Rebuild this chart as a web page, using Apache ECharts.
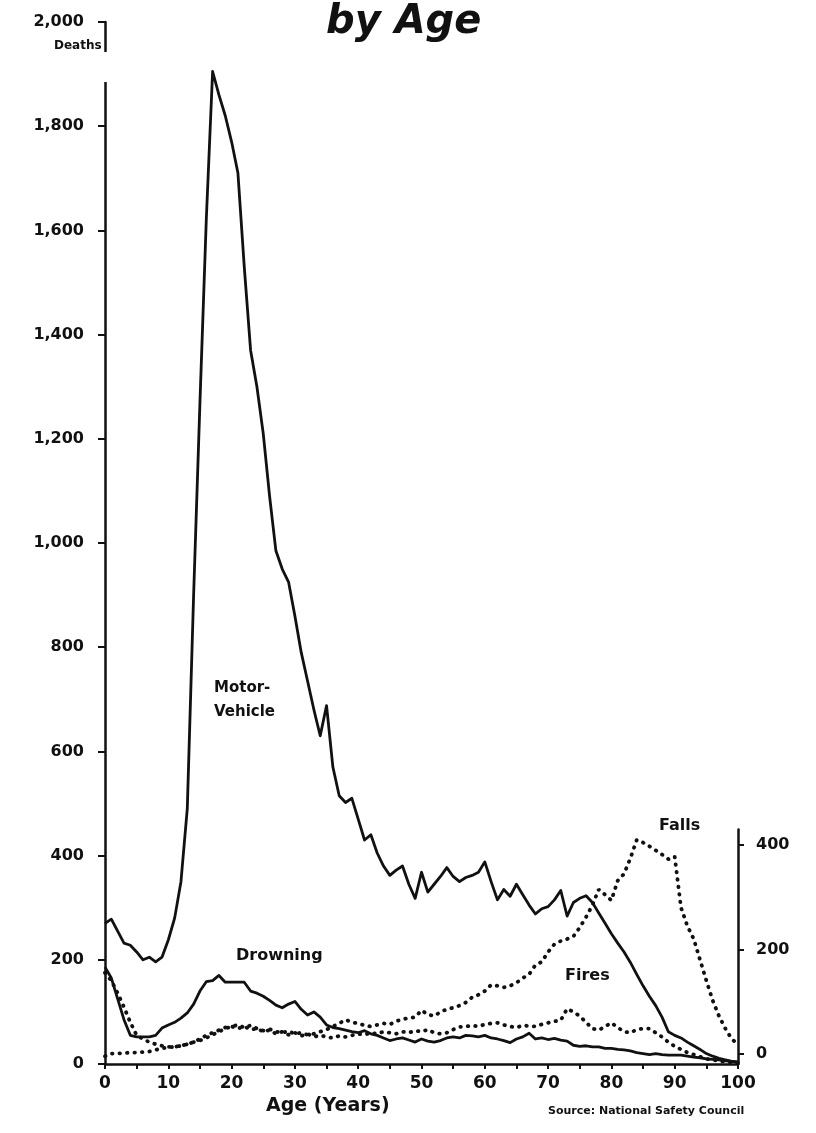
<!DOCTYPE html>
<html>
<head>
<meta charset="utf-8">
<title>Deaths by Age</title>
<script src="https://cdn.jsdelivr.net/npm/echarts@6.0.0/dist/echarts.min.js"></script>
<style>
  html, body { margin: 0; padding: 0; background: #fff; }
  #chart { width: 816px; height: 1133px; }
</style>
</head>
<body>
<div id="chart"></div>
<script>
// deaths per single year of age, ages 0..100 (index = age)
const motorVehicle = [
  270, 278, 255, 232, 228, 215, 200, 205, 196, 205,
  238, 280, 350, 490, 900, 1270, 1620, 1905, 1860, 1820,
  1770, 1710, 1530, 1370, 1300, 1210, 1090, 985, 950, 925,
  860, 790, 735, 680, 630, 688, 570, 515, 502, 510,
  470, 430, 440, 405, 380, 362, 372, 380, 345, 318,
  368, 330, 345, 360, 377, 360, 350, 358, 362, 368,
  388, 350, 315, 335, 322, 345, 325, 305, 288, 298,
  302, 315, 333, 284, 310, 318, 323, 310, 290, 270,
  250, 232, 215, 195, 172, 150, 130, 112, 90, 62,
  55, 50, 42, 35, 28, 20, 15, 11, 8, 5, 3
]
const drowning = [
  186, 165, 125, 85, 55, 52, 52, 52, 55, 69,
  75, 80, 88, 98, 115, 140, 158, 160, 170, 157,
  157, 157, 157, 140, 136, 130, 122, 113, 108, 115,
  120, 105, 94, 100, 90, 75, 70, 68, 65, 62,
  60, 64, 58, 55, 50, 45, 48, 50, 46, 42,
  48, 44, 42, 45, 50, 52, 50, 55, 54, 52,
  55, 50, 48, 45, 41, 48, 52, 59, 48, 50,
  47, 49, 46, 44, 36, 34, 35, 33, 33, 30,
  30, 28, 27, 25, 22, 20, 18, 20, 18, 17,
  17, 17, 15, 13, 12, 10, 9, 8, 6, 5, 4
]
const fires = [
  175, 160, 136, 109, 80, 55, 48, 42, 38, 35,
  33, 33, 35, 38, 42, 48, 55, 60, 65, 70,
  72, 68, 72, 66, 68, 62, 65, 58, 62, 56,
  60, 54, 58, 52, 55, 52, 50, 54, 52, 55,
  58, 56, 60, 58, 62, 60, 58, 62, 60, 64,
  62, 66, 60, 58, 60, 66, 71, 72, 74, 72,
  76, 78, 79, 75, 72, 70, 74, 73, 72, 76,
  79, 82, 84, 106, 100, 92, 80, 68, 65, 72,
  79, 70, 62, 60, 66, 68, 68, 60, 52, 42,
  34, 28, 22, 18, 14, 10, 8, 6, 4, 3, 2
]
const falls = [
  15, 20, 20, 21, 22, 22, 23, 24, 27, 30,
  32, 33, 35, 38, 42, 45, 50, 56, 62, 68,
  72, 75, 70, 74, 68, 64, 67, 62, 60, 63,
  58, 60, 56, 58, 62, 66, 72, 78, 85, 80,
  78, 74, 72, 75, 78, 76, 82, 86, 88, 90,
  103, 95, 92, 100, 105, 108, 112, 118, 128, 133,
  140, 152, 150, 147, 150, 156, 165, 172, 190, 196,
  215, 230, 236, 240, 245, 262, 282, 305, 335, 325,
  314, 352, 365, 395, 430, 425, 418, 410, 402, 393,
  398, 300, 265, 240, 200, 160, 122, 92, 68, 48, 38
]
const leftTicks = [0, 200, 400, 600, 800, 1000, 1200, 1400, 1600, 1800, 2000]
const rightTicks = [0, 200, 400]
const ageLabels = [0, 10, 20, 30, 40, 50, 60, 70, 80, 90, 100]

const INK = '#111'
const FONT = '"DejaVu Sans", Arial, sans-serif'

const toPoints = arr => arr.map((v, age) => [age, v])

const solid = (name, arr) => ({
  name, type: 'line', data: toPoints(arr), symbol: 'none',
  lineStyle: { color: INK, width: 2.8, join: 'round' }, z: 3
})
const dotted = (name, arr) => ({
  name, type: 'line', data: toPoints(arr), symbol: 'none',
  lineStyle: { color: INK, width: 3.8, type: [0.5, 7], cap: 'round' }, z: 2
})

const chart = echarts.init(document.getElementById('chart'))

// main grid: age 0 at x=105, age 100 at x=738; 0 deaths at y=1064, 2,000 at y=22
const gridTop = 22, gridBottom = 69
const plotH = 1133 - gridTop - gridBottom
// short right-hand scale (0-400), drawn a little lifted as in the print
const rightMin = -20, rightMax = 430

chart.setOption({
  backgroundColor: '#fff',
  animation: false,
  textStyle: { fontFamily: FONT },
  grid: [
    { left: 105, right: 78, top: gridTop, bottom: gridBottom },
    { left: 105, right: 78, bottom: gridBottom, height: plotH * (rightMax - rightMin) / 2000 }
  ],
  xAxis: [
    {
      type: 'value', gridIndex: 0, min: 0, max: 100, interval: 5,
      axisLine: { lineStyle: { color: INK, width: 2.5 } },
      axisTick: { length: 5, lineStyle: { color: INK, width: 2 } },
      axisLabel: {
        customValues: ageLabels,
        color: INK, fontSize: 17, fontWeight: 'bold', margin: 11
      },
      splitLine: { show: false }
    },
    { type: 'value', gridIndex: 1, min: 0, max: 100, show: false }
  ],
  yAxis: [
    {
      type: 'value', gridIndex: 0, min: 0, max: 2000, interval: 200,
      axisLine: { show: true, onZero: false, lineStyle: { color: INK, width: 2.5 } },
      axisTick: { show: true, length: 7, lineStyle: { color: INK, width: 2 } },
      axisLabel: {
        customValues: leftTicks,
        color: INK, fontSize: 16, fontWeight: 'bold', margin: 21,
        formatter: v => v.toLocaleString('en-US')
      },
      splitLine: { show: false }
    },
    {
      type: 'value', gridIndex: 1, position: 'right', min: rightMin, max: rightMax,
      axisLine: { show: true, onZero: false, lineStyle: { color: INK, width: 2.5 } },
      axisTick: { show: true, customValues: rightTicks, length: 6, lineStyle: { color: INK, width: 2 } },
      axisLabel: {
        customValues: rightTicks,
        color: INK, fontSize: 16, fontWeight: 'bold', margin: 18
      },
      splitLine: { show: false }
    }
  ],
  series: [
    solid('Motor-Vehicle', motorVehicle),
    solid('Drowning', drowning),
    dotted('Fires', fires),
    dotted('Falls', falls)
  ],
  graphic: [
    // gap in the left axis where the unit label sits
    { type: 'rect', left: 96, top: 52, shape: { width: 14, height: 30 },
      style: { fill: '#fff' }, z: 100 },
    { type: 'text', left: 54, top: 40, z: 101,
      style: { text: 'Deaths', font: 'bold 12px ' + FONT, fill: INK } },
    { type: 'text', left: 326, top: 3, z: 101,
      style: { text: 'by Age', font: 'italic bold 40px ' + FONT, fill: INK } },
    { type: 'text', left: 214, top: 676, z: 101,
      style: { text: 'Motor-\nVehicle', font: 'bold 15px ' + FONT, fill: INK, lineHeight: 24 } },
    { type: 'text', left: 236, top: 948, z: 101,
      style: { text: 'Drowning', font: 'bold 16px ' + FONT, fill: INK } },
    { type: 'text', left: 659, top: 818, z: 101,
      style: { text: 'Falls', font: 'bold 16px ' + FONT, fill: INK } },
    { type: 'text', left: 565, top: 968, z: 101,
      style: { text: 'Fires', font: 'bold 16px ' + FONT, fill: INK } },
    { type: 'text', left: 266, top: 1097, z: 101,
      style: { text: 'Age (Years)', font: 'bold 19px ' + FONT, fill: INK } },
    { type: 'text', left: 548, top: 1106, z: 101,
      style: { text: 'Source: National Safety Council', font: 'bold 11px ' + FONT, fill: INK } }
  ]
})
</script>
</body>
</html>
